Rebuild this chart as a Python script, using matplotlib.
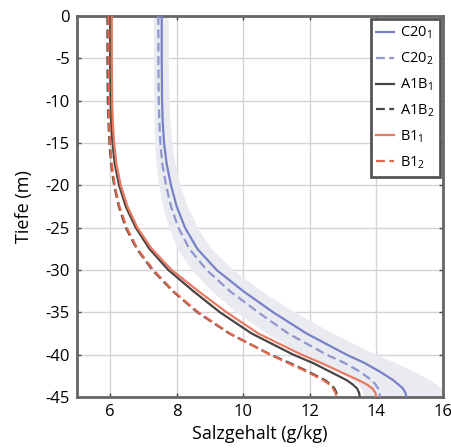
import numpy as np
import matplotlib
matplotlib.use("Agg")
import matplotlib.pyplot as plt

plt.rcParams["font.family"] = ["Open Sans", "DejaVu Sans"]
plt.rcParams["mathtext.default"] = "regular"
plt.rcParams["axes.unicode_minus"] = False

# -----------------------------
# Data
# -----------------------------
depth = [0, -5, -10, -12.5, -15, -17.5, -20, -22.5, -25, -27.5, -30, -32.5,
         -35, -37.5, -40, -41, -42, -43, -43.5, -44, -44.5, -45]

c20_1 = [7.55, 7.55, 7.56, 7.58, 7.62, 7.7, 7.83, 8.0, 8.25, 8.62, 9.2, 10.0,
         10.9, 11.9, 13.1, 13.65, 14.1, 14.5, 14.65, 14.8, 14.87, 14.9]
c20_2 = [7.45, 7.45, 7.46, 7.48, 7.51, 7.57, 7.68, 7.83, 8.05, 8.38, 8.9, 9.6,
         10.45, 11.35, 12.5, 13.05, 13.5, 13.85, 13.97, 14.05, 14.1, 14.1]
a1b_1 = [6.0, 6.0, 6.01, 6.03, 6.07, 6.14, 6.27, 6.47, 6.77, 7.18, 7.75, 8.5,
         9.3, 10.25, 11.5, 12.1, 12.6, 13.1, 13.28, 13.42, 13.48, 13.5]
a1b_2 = [5.92, 5.92, 5.93, 5.95, 5.98, 6.03, 6.12, 6.26, 6.47, 6.8, 7.27, 7.88,
         8.62, 9.58, 10.82, 11.4, 11.95, 12.45, 12.62, 12.74, 12.8, 12.83]
b1_1 = [6.05, 6.05, 6.06, 6.08, 6.12, 6.19, 6.32, 6.52, 6.82, 7.25, 7.85, 8.65,
        9.5, 10.45, 11.75, 12.35, 12.9, 13.45, 13.7, 13.88, 13.97, 14.0]
b1_2 = [5.95, 5.95, 5.96, 5.97, 6.0, 6.05, 6.14, 6.28, 6.5, 6.82, 7.3, 7.9,
        8.65, 9.6, 10.8, 11.35, 11.9, 12.4, 12.58, 12.7, 12.77, 12.8]

# uncertainty band around the C20 runs
band_lo = [7.3, 7.3, 7.31, 7.32, 7.34, 7.38, 7.46, 7.58, 7.76, 8.02, 8.45, 9.05,
           9.8, 10.7, 11.8, 12.35, 12.85, 13.3, 13.45, 13.55, 13.6, 13.6]
band_hi = [7.75, 7.75, 7.77, 7.8, 7.85, 7.95, 8.1, 8.32, 8.62, 9.05, 9.7, 10.55,
           11.55, 12.7, 14.0, 14.6, 15.15, 15.6, 15.8, 15.95, 16.0, 16.0]

series = [
    ("C20$_1$", c20_1, "#7880c8", "-"),
    ("C20$_2$", c20_2, "#8f97cf", (0, (4, 2))),
    ("A1B$_1$", a1b_1, "#4a4444", "-"),
    ("A1B$_2$", a1b_2, "#4a4444", (0, (4, 2))),
    ("B1$_1$", b1_1, "#e87a62", "-"),
    ("B1$_2$", b1_2, "#e0684e", (0, (4, 2))),
]

# -----------------------------
# Plot
# -----------------------------
fig = plt.figure(figsize=(4.52, 4.48), dpi=100)
ax = fig.add_axes([0.170, 0.114, 0.810, 0.850])

ax.fill_betweenx(depth, band_lo, band_hi, color="#e9ebf1", lw=0, zorder=1)

for label, vals, col, ls in series:
    ax.plot(vals, depth, color=col, ls=ls, lw=1.6, label=label, zorder=3)

ax.set_xlim(5, 16)
ax.set_ylim(-45, 0)
ax.set_xticks([6, 8, 10, 12, 14, 16])
ax.set_yticks(np.arange(-45, 1, 5))
ax.grid(True, color="#d4d4d4", lw=1.0, zorder=0)
ax.set_axisbelow(True)

ax.tick_params(direction="in", length=3, width=1, color="#444444",
               labelsize=12, top=True, right=True, pad=5)
for sp in ax.spines.values():
    sp.set_color("#666666")
    sp.set_linewidth(2.0)

ax.set_xlabel("Salzgehalt (g/kg)", fontsize=13, labelpad=4)
ax.set_ylabel("Tiefe (m)", fontsize=13, labelpad=9)

leg = ax.legend(loc="upper right", fontsize=10.5, handlelength=1.2,
                handletextpad=0.4, labelspacing=0.65, borderpad=0.4,
                fancybox=False, framealpha=1, borderaxespad=0.2)
leg.get_frame().set_edgecolor("#555555")
leg.get_frame().set_linewidth(2.0)

fig.savefig("out.png", dpi=100)
